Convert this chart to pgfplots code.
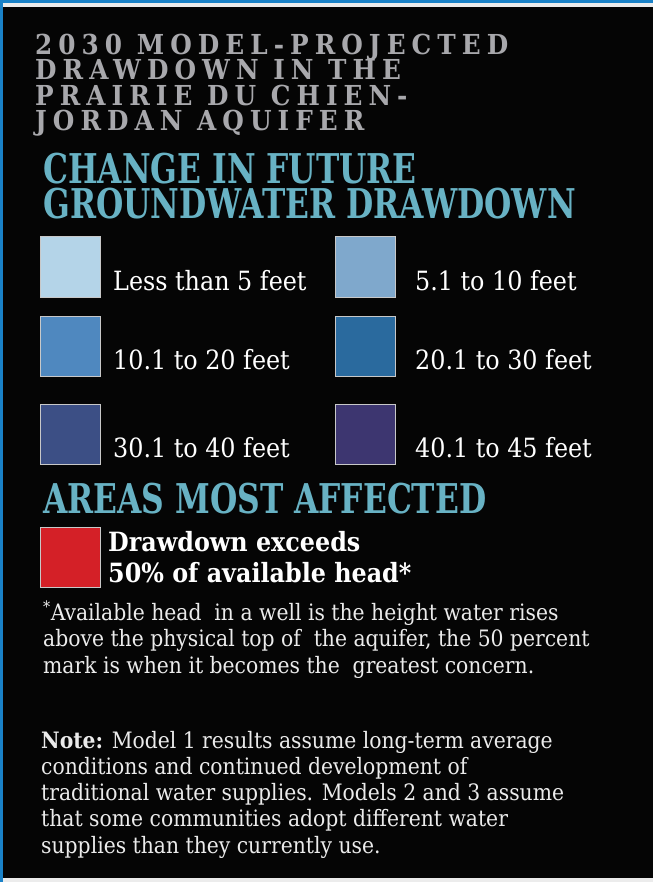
\documentclass[border=0pt]{standalone}
\usepackage{pgfplots}
\pgfplotsset{compat=1.18}
\usepackage{graphicx}
\usepackage{fontspec}
\setmainfont{DejaVu Serif Condensed}[BoldFont={DejaVu Serif Condensed Bold}]
\newfontfamily\titlefont{DejaVu Serif Condensed Bold}[LetterSpace=22]
\newfontfamily\headfont{DejaVu Serif Condensed Bold}
\definecolor{bluebord}{HTML}{1A82C8}
\definecolor{titlegray}{HTML}{A8A8AC}
\definecolor{teal}{HTML}{68B2C4}
\definecolor{c1}{HTML}{B4D4E8}
\definecolor{c2}{HTML}{7FA8CC}
\definecolor{c3}{HTML}{4F88BF}
\definecolor{c4}{HTML}{2A6A9E}
\definecolor{c5}{HTML}{3C4F85}
\definecolor{c6}{HTML}{3D3670}
\definecolor{cred}{HTML}{D42027}
\definecolor{swbord}{HTML}{C8C8C8}
\begin{document}
\begin{tikzpicture}
\begin{axis}[width=653pt,height=882pt,scale only axis,
  xmin=0,xmax=653,ymin=0,ymax=882,y dir=reverse,hide axis,clip=false]
% frame
\addplot[fill=white!85!gray,draw=none] coordinates {(0,0) (653,0) (653,882) (0,882)} -- cycle;
\addplot[fill=bluebord,draw=none] coordinates {(0,0) (653,0) (653,3) (0,3)} -- cycle;
\addplot[fill=bluebord,draw=none] coordinates {(0,0) (3,0) (3,882) (0,882)} -- cycle;
\addplot[fill=black!98,draw=none] coordinates {(3,7) (653,7) (653,878) (3,878)} -- cycle;
% swatches
\addplot[fill=c1,draw=swbord,line width=1pt] coordinates {(40,237) (100,237) (100,297) (40,297)} -- cycle;
\addplot[fill=c2,draw=swbord,line width=1pt] coordinates {(335,237) (395,237) (395,297) (335,297)} -- cycle;
\addplot[fill=c3,draw=swbord,line width=1pt] coordinates {(40,316) (100,316) (100,376) (40,376)} -- cycle;
\addplot[fill=c4,draw=swbord,line width=1pt] coordinates {(335,316) (395,316) (395,376) (335,376)} -- cycle;
\addplot[fill=c5,draw=swbord,line width=1pt] coordinates {(40,404) (100,404) (100,464) (40,464)} -- cycle;
\addplot[fill=c6,draw=swbord,line width=1pt] coordinates {(335,404) (395,404) (395,464) (335,464)} -- cycle;
\addplot[fill=cred,draw=swbord,line width=1pt] coordinates {(40,527) (100,527) (100,587) (40,587)} -- cycle;
% title
\begin{scope}[every node/.style={anchor=base west,inner sep=0pt,text=titlegray,text height=20pt,text depth=0pt,font=\titlefont\fontsize{27.5}{27.5}\selectfont}]
\node at (axis cs:35,55) {2030 MODEL-PROJECTED};
\node at (axis cs:35,80) {DRAWDOWN IN THE};
\node at (axis cs:35,106) {PRAIRIE DU CHIEN-};
\node at (axis cs:35,131) {JORDAN AQUIFER};
\end{scope}
\begin{scope}[every node/.style={anchor=base west,inner sep=0pt,text=teal,text height=30pt,text depth=0pt,font=\headfont\fontsize{41}{41}\selectfont}]
\node at (axis cs:43,184) {\scalebox{0.85}[1]{CHANGE IN FUTURE}};
\node at (axis cs:43,219) {\scalebox{0.85}[1]{GROUNDWATER DRAWDOWN}};
\node at (axis cs:43,513) {\scalebox{0.85}[1]{AREAS MOST AFFECTED}};
\end{scope}
\begin{scope}[every node/.style={anchor=base west,inner sep=0pt,text=white,font=\fontsize{26.5}{26.5}\selectfont}]
\node at (axis cs:113,290) {Less than 5 feet};
\node at (axis cs:415,290) {5.1 to 10 feet};
\node at (axis cs:113,369) {10.1 to 20 feet};
\node at (axis cs:415,369) {20.1 to 30 feet};
\node at (axis cs:113,457) {30.1 to 40 feet};
\node at (axis cs:415,457) {40.1 to 45 feet};
\end{scope}
\begin{scope}[every node/.style={anchor=base west,inner sep=0pt,text=white,font=\bfseries\fontsize{26.5}{26.5}\selectfont}]
\node at (axis cs:108,551) {Drawdown exceeds};
\node at (axis cs:108,582) {50\% of available head*};
\end{scope}
\begin{scope}[every node/.style={anchor=base west,inner sep=0pt,text=white!92!black,font=\fontsize{22.6}{22.6}\selectfont}]
\node at (axis cs:43,620) {\textsuperscript{*}Available head\ \ in a well is the height water rises};
\node at (axis cs:43,646) {above the physical top of\ \ the aquifer, the 50 percent};
\node at (axis cs:43,673) {mark is when it becomes the\ \ greatest concern.};
\node at (axis cs:41,748) {\textbf{Note:} Model 1 results assume long-term average};
\node at (axis cs:41,774) {conditions and continued development of};
\node at (axis cs:41,800) {traditional water supplies. Models 2 and 3 assume};
\node at (axis cs:41,826) {that some communities adopt different water};
\node at (axis cs:41,853) {supplies than they currently use.};
\end{scope}
\end{axis}
\end{tikzpicture}
\end{document}
